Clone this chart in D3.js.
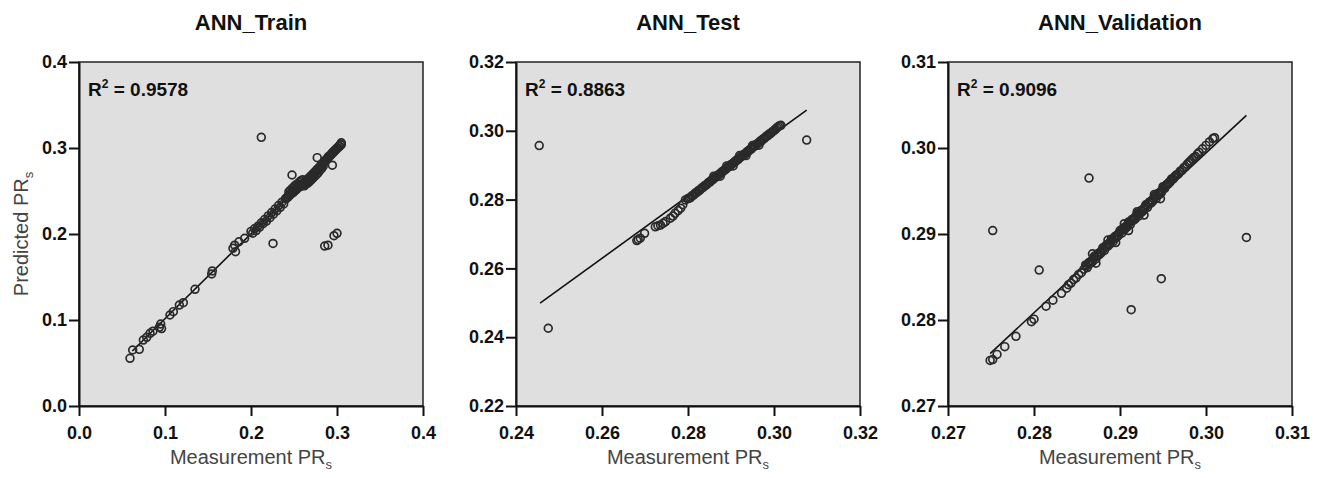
<!DOCTYPE html>
<html>
<head>
<meta charset="utf-8">
<script src="https://cdn.jsdelivr.net/npm/d3@7"></script>
<style>
  body { margin: 0; background: #fff; }
  svg { display: block; font-family: Arial, 'Liberation Sans', sans-serif; }
  .tick text { font-weight: bold; font-size: 18px; fill: #111; }
</style>
</head>
<body>
<div id="chart"></div>
<script>
const panelTitles = ['ANN_Train', 'ANN_Test', 'ANN_Validation'];
const r2Values = ['0.9578', '0.8863', '0.9096'];
const xDomains = [[0, 0.4], [0.24, 0.32], [0.27, 0.31]];
const yDomains = [[0, 0.4], [0.22, 0.32], [0.27, 0.31]];
const xTickValues = [[0, 0.1, 0.2, 0.3, 0.4], [0.24, 0.26, 0.28, 0.30, 0.32], [0.27, 0.28, 0.29, 0.30, 0.31]];
const yTickValues = [[0, 0.1, 0.2, 0.3, 0.4], [0.22, 0.24, 0.26, 0.28, 0.30, 0.32], [0.27, 0.28, 0.29, 0.30, 0.31]];
const tickFormats = ['.1f', '.2f', '.2f'];

// regression line end points [x, y]
const fitLines = [
  [[0.062, 0.064], [0.305, 0.304]],
  [[0.2456, 0.2499], [0.3076, 0.3060]],
  [[0.2749, 0.2761], [0.3047, 0.3038]],
];

const trainPoints = [
  [0.0593, 0.0555], [0.0624, 0.0651], [0.0701, 0.0659], [0.0748, 0.0767], [0.0787, 0.0799],
  [0.0826, 0.0845], [0.0860, 0.0870], [0.0934, 0.0915], [0.0950, 0.0953], [0.0960, 0.0900],
  [0.1058, 0.1058], [0.1097, 0.1097], [0.1167, 0.1174], [0.1213, 0.1201], [0.1349, 0.1357],
  [0.1543, 0.1535], [0.1550, 0.1570], [0.1790, 0.1833], [0.1810, 0.1870], [0.1820, 0.1795],
  [0.1860, 0.1910], [0.1926, 0.1950],
  [0.200, 0.203], [0.202, 0.201], [0.204, 0.206], [0.206, 0.204], [0.208, 0.209],
  [0.210, 0.208], [0.212, 0.213], [0.214, 0.212], [0.216, 0.217], [0.218, 0.215],
  [0.220, 0.221], [0.222, 0.219], [0.224, 0.225], [0.226, 0.223], [0.228, 0.229],
  [0.230, 0.227], [0.232, 0.233], [0.234, 0.231], [0.236, 0.237], [0.238, 0.235],
  [0.240, 0.241], [0.241, 0.241], [0.242, 0.243], [0.243, 0.243], [0.244, 0.245],
  [0.245, 0.245], [0.246, 0.247], [0.247, 0.247], [0.248, 0.249], [0.249, 0.248],
  [0.250, 0.251], [0.251, 0.250], [0.252, 0.252], [0.253, 0.252], [0.254, 0.254],
  [0.255, 0.254], [0.256, 0.256], [0.257, 0.255], [0.258, 0.257], [0.259, 0.256],
  [0.260, 0.258], [0.261, 0.258], [0.262, 0.260], [0.263, 0.260], [0.264, 0.262],
  [0.265, 0.262], [0.266, 0.264], [0.267, 0.264], [0.268, 0.266], [0.269, 0.266],
  [0.270, 0.268], [0.271, 0.268], [0.272, 0.270], [0.273, 0.270], [0.274, 0.272],
  [0.275, 0.272], [0.276, 0.274], [0.277, 0.275], [0.278, 0.276], [0.279, 0.277],
  [0.280, 0.278], [0.281, 0.279], [0.282, 0.281], [0.283, 0.281], [0.284, 0.283],
  [0.285, 0.284], [0.286, 0.285], [0.287, 0.286], [0.288, 0.287], [0.289, 0.288],
  [0.290, 0.290], [0.291, 0.290], [0.292, 0.291], [0.293, 0.292], [0.294, 0.294],
  [0.295, 0.294], [0.296, 0.296], [0.297, 0.296], [0.298, 0.298], [0.299, 0.298],
  [0.300, 0.300], [0.301, 0.300], [0.302, 0.302], [0.303, 0.302], [0.304, 0.304],
  [0.305, 0.304], [0.305, 0.306],
  [0.244, 0.249], [0.246, 0.251], [0.248, 0.253], [0.250, 0.255], [0.252, 0.257],
  [0.254, 0.258], [0.256, 0.260], [0.258, 0.262], [0.260, 0.263],
  [0.262, 0.256], [0.264, 0.258], [0.266, 0.259], [0.268, 0.261], [0.270, 0.263],
  [0.272, 0.265], [0.274, 0.267], [0.276, 0.269], [0.278, 0.271], [0.280, 0.274],
  [0.282, 0.276], [0.284, 0.279],
  // outliers
  [0.2120, 0.3124], [0.2256, 0.1890], [0.2477, 0.2686], [0.2770, 0.2888], [0.2946, 0.2800],
  [0.2857, 0.1860], [0.2895, 0.1870], [0.2965, 0.1980], [0.3000, 0.2008],
];

const testPoints = [
  [0.2454, 0.2957], [0.2475, 0.2426], [0.3076, 0.2973],
  [0.2681, 0.2681], [0.2684, 0.2684], [0.2689, 0.2688], [0.2699, 0.2702], [0.2724, 0.2721],
  [0.2730, 0.2724], [0.2736, 0.2726], [0.2742, 0.2731], [0.2748, 0.2736], [0.2759, 0.2746],
  [0.2765, 0.2752], [0.2770, 0.2760], [0.2777, 0.2768], [0.2783, 0.2775], [0.2788, 0.2785],
  [0.2794, 0.2799],
  [0.2800, 0.2803], [0.2803, 0.2804], [0.2806, 0.2806], [0.2809, 0.2811], [0.2812, 0.2812],
  [0.2815, 0.2816], [0.2818, 0.2820], [0.2821, 0.2821], [0.2824, 0.2826], [0.2827, 0.2827],
  [0.2830, 0.2831], [0.2833, 0.2835], [0.2836, 0.2836], [0.2839, 0.2841], [0.2842, 0.2842],
  [0.2845, 0.2846], [0.2848, 0.2850], [0.2851, 0.2851], [0.2854, 0.2856], [0.2857, 0.2857],
  [0.2860, 0.2861], [0.2863, 0.2865], [0.2866, 0.2866], [0.2869, 0.2871], [0.2872, 0.2872],
  [0.2875, 0.2876], [0.2878, 0.2880], [0.2881, 0.2881], [0.2884, 0.2886], [0.2887, 0.2887],
  [0.2890, 0.2891], [0.2893, 0.2895], [0.2896, 0.2896], [0.2899, 0.2901], [0.2902, 0.2902],
  [0.2905, 0.2906], [0.2908, 0.2910], [0.2911, 0.2911], [0.2914, 0.2916], [0.2917, 0.2917],
  [0.2920, 0.2921], [0.2923, 0.2925], [0.2926, 0.2926], [0.2929, 0.2931], [0.2932, 0.2932],
  [0.2935, 0.2936], [0.2938, 0.2940], [0.2941, 0.2941], [0.2944, 0.2946], [0.2947, 0.2947],
  [0.2950, 0.2951], [0.2953, 0.2955], [0.2956, 0.2956], [0.2959, 0.2961], [0.2962, 0.2962],
  [0.2965, 0.2966], [0.2968, 0.2970], [0.2971, 0.2971], [0.2974, 0.2976], [0.2977, 0.2977],
  [0.2980, 0.2981], [0.2983, 0.2985], [0.2986, 0.2986], [0.2989, 0.2991], [0.2992, 0.2992],
  [0.2995, 0.2996], [0.2998, 0.2999], [0.3001, 0.3002], [0.3004, 0.3005], [0.3007, 0.3009],
  [0.3010, 0.3012], [0.3013, 0.3015], [0.3016, 0.3016],
  [0.2860, 0.2868], [0.2875, 0.2868], [0.2890, 0.2898], [0.2905, 0.2898], [0.2920, 0.2928],
  [0.2935, 0.2928], [0.2950, 0.2957], [0.2965, 0.2958],
];

const validPoints = [
  [0.2752, 0.2904], [0.2864, 0.2965], [0.2806, 0.2858], [0.2913, 0.2812], [0.2948, 0.2848],
  [0.3047, 0.2896],
  [0.2749, 0.2753], [0.2752, 0.2754], [0.2757, 0.2760], [0.2766, 0.2769], [0.2779, 0.2781],
  [0.2797, 0.2798], [0.2800, 0.2801], [0.2814, 0.2816], [0.2822, 0.2823], [0.2832, 0.2831],
  [0.2838, 0.2837],
  [0.2840, 0.2841], [0.2843, 0.2843], [0.2846, 0.2847], [0.2849, 0.2849], [0.2852, 0.2853],
  [0.2855, 0.2855], [0.2858, 0.2859],
  [0.2860, 0.2864], [0.2862, 0.2861], [0.2864, 0.2867], [0.2866, 0.2866], [0.2868, 0.2868],
  [0.2870, 0.2874], [0.2872, 0.2871], [0.2874, 0.2877], [0.2876, 0.2876], [0.2878, 0.2878],
  [0.2880, 0.2884], [0.2882, 0.2881], [0.2884, 0.2887], [0.2886, 0.2886], [0.2888, 0.2888],
  [0.2890, 0.2894], [0.2892, 0.2891], [0.2894, 0.2897], [0.2896, 0.2896], [0.2898, 0.2898],
  [0.2900, 0.2904], [0.2902, 0.2901], [0.2904, 0.2907], [0.2906, 0.2906], [0.2908, 0.2908],
  [0.2910, 0.2914], [0.2912, 0.2911], [0.2914, 0.2917], [0.2916, 0.2916], [0.2918, 0.2918],
  [0.2920, 0.2924], [0.2922, 0.2921], [0.2924, 0.2927], [0.2926, 0.2926], [0.2928, 0.2928],
  [0.2930, 0.2934], [0.2932, 0.2931], [0.2934, 0.2937], [0.2936, 0.2936], [0.2938, 0.2938],
  [0.2940, 0.2944], [0.2942, 0.2941], [0.2944, 0.2947], [0.2946, 0.2946], [0.2948, 0.2948],
  [0.2950, 0.2955], [0.2952, 0.2953], [0.2954, 0.2957], [0.2956, 0.2958], [0.2958, 0.2960],
  [0.2960, 0.2964], [0.2962, 0.2964], [0.2964, 0.2967], [0.2966, 0.2969],
  [0.2968, 0.2970], [0.2972, 0.2974], [0.2976, 0.2978], [0.2980, 0.2983], [0.2984, 0.2987],
  [0.2988, 0.2990], [0.2992, 0.2995], [0.2996, 0.2999], [0.3000, 0.3003], [0.3004, 0.3007],
  [0.3008, 0.3011], [0.3010, 0.3012],
  [0.2861, 0.2863], [0.2863, 0.2865], [0.2865, 0.2867], [0.2867, 0.2869], [0.2869, 0.2871],
  [0.2871, 0.2873], [0.2873, 0.2875], [0.2875, 0.2877], [0.2877, 0.2879], [0.2879, 0.2881],
  [0.2881, 0.2883], [0.2883, 0.2885], [0.2885, 0.2887], [0.2887, 0.2889], [0.2889, 0.2891],
  [0.2891, 0.2893], [0.2893, 0.2895], [0.2895, 0.2897], [0.2897, 0.2899], [0.2899, 0.2901],
  [0.2901, 0.2903], [0.2903, 0.2905], [0.2905, 0.2907], [0.2907, 0.2909], [0.2909, 0.2911],
  [0.2911, 0.2913], [0.2913, 0.2915], [0.2915, 0.2917], [0.2917, 0.2919], [0.2919, 0.2921],
  [0.2921, 0.2923], [0.2923, 0.2925], [0.2925, 0.2927], [0.2927, 0.2929], [0.2929, 0.2931],
  [0.2931, 0.2933], [0.2933, 0.2935], [0.2935, 0.2937], [0.2937, 0.2939], [0.2939, 0.2941],
  [0.2941, 0.2943], [0.2943, 0.2945], [0.2945, 0.2947], [0.2947, 0.2949], [0.2949, 0.2951],
  [0.2951, 0.2954], [0.2953, 0.2956], [0.2955, 0.2958], [0.2957, 0.2960], [0.2959, 0.2962],
  [0.2961, 0.2964], [0.2963, 0.2966], [0.2965, 0.2968],
  [0.2970, 0.2973], [0.2974, 0.2977], [0.2978, 0.2981], [0.2982, 0.2985], [0.2986, 0.2989],
  [0.2990, 0.2993],
  [0.2868, 0.2877], [0.2872, 0.2866], [0.2886, 0.2893], [0.2895, 0.2890], [0.2905, 0.2912],
  [0.2910, 0.2904], [0.2920, 0.2926], [0.2928, 0.2922], [0.2940, 0.2946], [0.2947, 0.2941],
];

const pointSets = [trainPoints, testPoints, validPoints];

const width = 1322;
const height = 478;
const plotSize = 344;
const plotTop = 62;
const plotLefts = [79, 516, 948];

const svg = d3.select('#chart')
  .append('svg')
  .attr('width', width)
  .attr('height', height);

panelTitles.forEach((title, i) => {
  const left = plotLefts[i];
  const x = d3.scaleLinear().domain(xDomains[i]).range([0, plotSize]);
  const y = d3.scaleLinear().domain(yDomains[i]).range([plotSize, 0]);
  const g = svg.append('g').attr('transform', `translate(${left},${plotTop})`);

  g.append('rect')
    .attr('width', plotSize)
    .attr('height', plotSize)
    .attr('fill', '#dfdfdf')
    .attr('stroke', '#222')
    .attr('stroke-width', 1.5);

  // fit line
  g.append('line')
    .attr('x1', x(fitLines[i][0][0]))
    .attr('y1', y(fitLines[i][0][1]))
    .attr('x2', x(fitLines[i][1][0]))
    .attr('y2', y(fitLines[i][1][1]))
    .attr('stroke', '#111')
    .attr('stroke-width', 1.6);

  g.selectAll('.pt')
    .data(pointSets[i])
    .enter()
    .append('circle')
    .attr('class', 'pt')
    .attr('cx', (d) => x(d[0]))
    .attr('cy', (d) => y(d[1]))
    .attr('r', 3.9)
    .attr('fill', 'none')
    .attr('stroke', '#2a2a2a')
    .attr('stroke-width', 1.7);

  const fmt = d3.format(tickFormats[i]);
  const xAxis = g.append('g')
    .attr('transform', `translate(0,${plotSize})`)
    .call(d3.axisBottom(x).tickValues(xTickValues[i]).tickFormat(fmt).tickSize(10).tickPadding(10).tickSizeOuter(0));
  const yAxis = g.append('g')
    .call(d3.axisLeft(y).tickValues(yTickValues[i]).tickFormat(fmt).tickSize(10).tickPadding(2).tickSizeOuter(0));
  [xAxis, yAxis].forEach((a) => {
    a.select('.domain').attr('stroke', '#111').attr('stroke-width', 2);
    a.selectAll('.tick line').attr('stroke', '#111').attr('stroke-width', 2);
    a.selectAll('.tick text').attr('fill', '#111');
  });

  // title
  svg.append('text')
    .attr('x', left + plotSize / 2)
    .attr('y', 30)
    .attr('text-anchor', 'middle')
    .style('font-size', '22px')
    .style('font-weight', 'bold')
    .attr('fill', '#111')
    .text(title);

  // R squared label
  const r2 = g.append('text')
    .attr('x', 9)
    .attr('y', 34)
    .style('font-size', '19px')
    .style('font-weight', 'bold')
    .attr('fill', '#111');
  r2.append('tspan').text('R');
  r2.append('tspan').attr('dy', -8).style('font-size', '12px').text('2');
  r2.append('tspan').attr('dy', 8).text(' = ' + r2Values[i]);

  // x axis title
  const xt = svg.append('text')
    .attr('x', left + plotSize / 2)
    .attr('y', 464)
    .attr('text-anchor', 'middle')
    .style('font-size', '20px')
    .attr('fill', '#444');
  xt.append('tspan').text('Measurement PR');
  xt.append('tspan').attr('dy', 5).style('font-size', '13px').text('s');
});

// y axis title (first panel only)
const yt = svg.append('text')
  .attr('transform', `translate(28,${plotTop + plotSize / 2}) rotate(-90)`)
  .attr('text-anchor', 'middle')
  .style('font-size', '20px')
  .attr('fill', '#444');
yt.append('tspan').text('Predicted PR');
yt.append('tspan').attr('dy', 5).style('font-size', '13px').text('s');
</script>
</body>
</html>
